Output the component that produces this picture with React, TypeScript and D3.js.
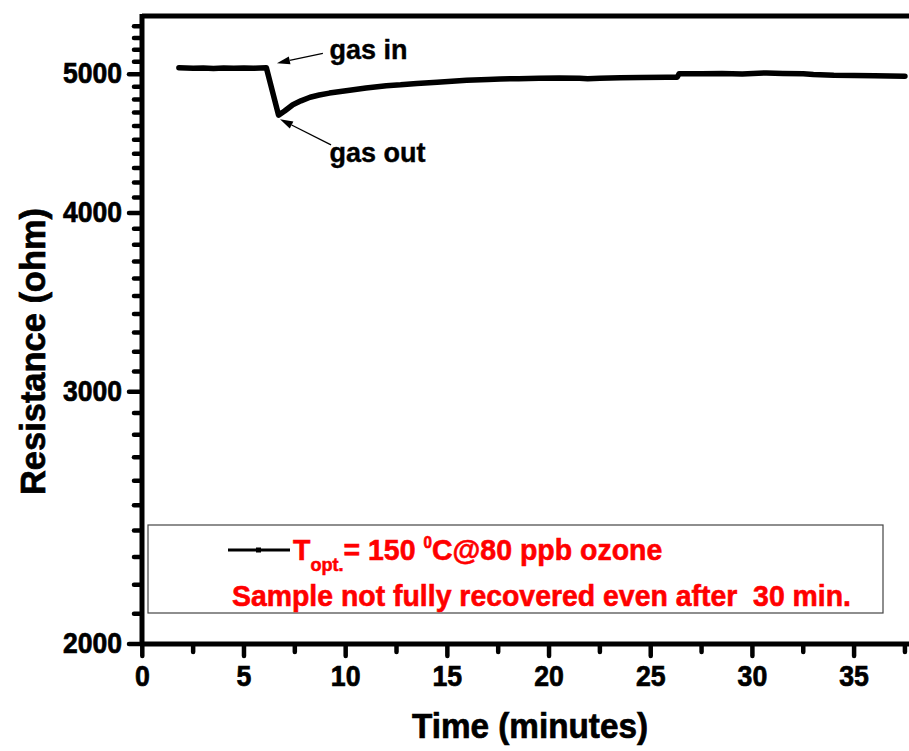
import React from 'react';
import * as d3 from 'd3';

// time in minutes, resistance in ohm
const times = [1.8, 2.5, 3, 3.5, 4, 4.5, 5, 5.5, 6.1, 6.7, 7.0, 7.4, 7.8, 8.25, 8.7, 9.2, 10.2, 11, 12, 12.7, 13.5, 14.5, 15.95, 17, 17.6, 18.5, 19.5, 20.5, 21.5, 21.9, 22.5, 23.5, 24.5, 25.8, 26.3, 26.4, 27.5, 28.5, 29.5, 30.7, 31.5, 32.5, 33, 34, 35, 36, 37.5];
const resistance = [5052, 5048, 5050, 5046, 5049, 5047, 5050, 5048, 5052, 4681, 4712, 4760, 4790, 4818, 4835, 4850, 4872, 4890, 4908, 4915, 4926, 4936, 4952, 4958, 4962, 4964, 4967, 4970, 4968, 4964, 4968, 4972, 4974, 4976, 4975, 5004, 5003, 5006, 5002, 5010, 5006, 5004, 4998, 4992, 4990, 4988, 4984];

const xMajor = [0, 5, 10, 15, 20, 25, 30, 35];
const xMinor = [2.5, 7.5, 12.5, 17.5, 22.5, 27.5, 32.5, 37.5];
const yMajor = [2000, 3000, 4000, 5000];
const yMinor = d3.range(2100, 5450, 100).filter(v => v % 1000 !== 0);

// annotation: [label, text pos (min, ohm), arrow tail, arrow tip]
const notes: [string, number[], number[], number[]][] = [
  ['gas in', [9.2, 5127], [8.88, 5170], [6.62, 5089]],
  ['gas out', [9.2, 4340], [9.28, 4462], [6.77, 4651]],
];

const legendLabel = 'Sample not fully recovered even after  30 min.';

const font = '"Liberation Sans", Arial, sans-serif';

export default function App() {
  const W = 909, H = 751;
  const x = d3.scaleLinear().domain([0, 37.7]).range([142.3, 909]);
  const y = d3.scaleLog().domain([2000, 5490]).range([644, 16]);
  const line = d3.line<number>().x((d, i) => x(times[i])).y(d => y(d));

  const arrow = (t: number[], h: number[]) => {
    const x1 = x(t[0]), y1 = y(t[1]), x2 = x(h[0]), y2 = y(h[1]);
    const a = Math.atan2(y2 - y1, x2 - x1);
    const L = 13, w = 4;
    const bx = x2 - L * Math.cos(a), by = y2 - L * Math.sin(a);
    const px = -Math.sin(a) * w, py = Math.cos(a) * w;
    return (
      <g>
        <line x1={x1} y1={y1} x2={bx} y2={by} stroke="#000" strokeWidth={1.3} />
        <path d={`M${x2},${y2}L${bx + px},${by + py}L${bx - px},${by - py}Z`} fill="#000" />
      </g>
    );
  };

  const sx = 0.95;

  return (
    <svg width={W} height={H} style={{ position: 'absolute', left: 0, top: 0 }} fontFamily={font} fontWeight="bold">
      <rect width={W} height={H} fill="#fff" />

      {/* legend box */}
      <rect x={148} y={525} width={735} height={88} fill="none" stroke="#444" strokeWidth={1.2} />
      <line x1={228} x2={290} y1={550} y2={550} stroke="#000" strokeWidth={3} />
      <rect x={256} y={547.5} width={5} height={5} fill="#000" />
      <g transform={`translate(293,560) scale(${sx},1)`} fill="#ff0000" stroke="#ff0000" strokeWidth={0.6}>
        <text fontSize={30}>
          <tspan>T</tspan>
          <tspan fontSize={19} dy={11}>opt.</tspan>
          <tspan dy={-11}>= 150 </tspan>
          <tspan fontSize={16} dy={-12}>0</tspan>
          <tspan dy={12}>C@80 ppb ozone</tspan>
        </text>
      </g>
      <text x={232} y={606} fontSize={30} fill="#ff0000" stroke="#ff0000" strokeWidth={0.6}
        textLength={619} lengthAdjust="spacingAndGlyphs" style={{ whiteSpace: 'pre' }}>{legendLabel}</text>

      {/* data */}
      <path d={line(resistance) || ''} fill="none" stroke="#000" strokeWidth={5.5} strokeLinejoin="round" strokeLinecap="round" />

      {/* annotations */}
      {notes.map(([label, p, t, h]) => (
        <g key={label}>
          {arrow(t, h)}
          <text x={x(p[0])} y={y(p[1])} fontSize={27} stroke="#000" strokeWidth={0.4}>{label}</text>
        </g>
      ))}

      {/* frame */}
      <line x1={142} x2={909} y1={16} y2={16} stroke="#000" strokeWidth={5} />
      <line x1={142} x2={142} y1={14} y2={646} stroke="#000" strokeWidth={5} />
      <line x1={140} x2={909} y1={644} y2={644} stroke="#000" strokeWidth={5} />

      {/* y ticks */}
      {yMinor.map(v => (
        <line key={'ym' + v} x1={134} x2={141} y1={y(v)} y2={y(v)} stroke="#000" strokeWidth={4.5} strokeLinecap="round" />
      ))}
      {yMajor.map(v => (
        <g key={'y' + v}>
          <line x1={129} x2={141} y1={y(v)} y2={y(v)} stroke="#000" strokeWidth={4.5} strokeLinecap="round" />
          <text x={122} y={y(v) + 9} fontSize={29} textAnchor="end" textLength={59} lengthAdjust="spacingAndGlyphs"
            stroke="#000" strokeWidth={0.7}>{v}</text>
        </g>
      ))}

      {/* x ticks */}
      {xMinor.map(v => (
        <line key={'xm' + v} x1={x(v)} x2={x(v)} y1={646} y2={652} stroke="#000" strokeWidth={4.5} strokeLinecap="round" />
      ))}
      {xMajor.map(v => (
        <g key={'x' + v}>
          <line x1={x(v)} x2={x(v)} y1={646} y2={656} stroke="#000" strokeWidth={4.5} strokeLinecap="round" />
          <g transform={`translate(${x(v)},686) scale(0.92,1)`}>
            <text fontSize={29} textAnchor="middle" stroke="#000" strokeWidth={0.7}>{v}</text>
          </g>
        </g>
      ))}

      {/* axis titles */}
      <text x={412} y={738} fontSize={35} textLength={236} lengthAdjust="spacingAndGlyphs" stroke="#000" strokeWidth={0.7}>Time (minutes)</text>
      <text transform="translate(45,495) rotate(-90)" fontSize={35} textLength={287} lengthAdjust="spacingAndGlyphs"
        stroke="#000" strokeWidth={0.7}>Resistance (ohm)</text>
    </svg>
  );
}
